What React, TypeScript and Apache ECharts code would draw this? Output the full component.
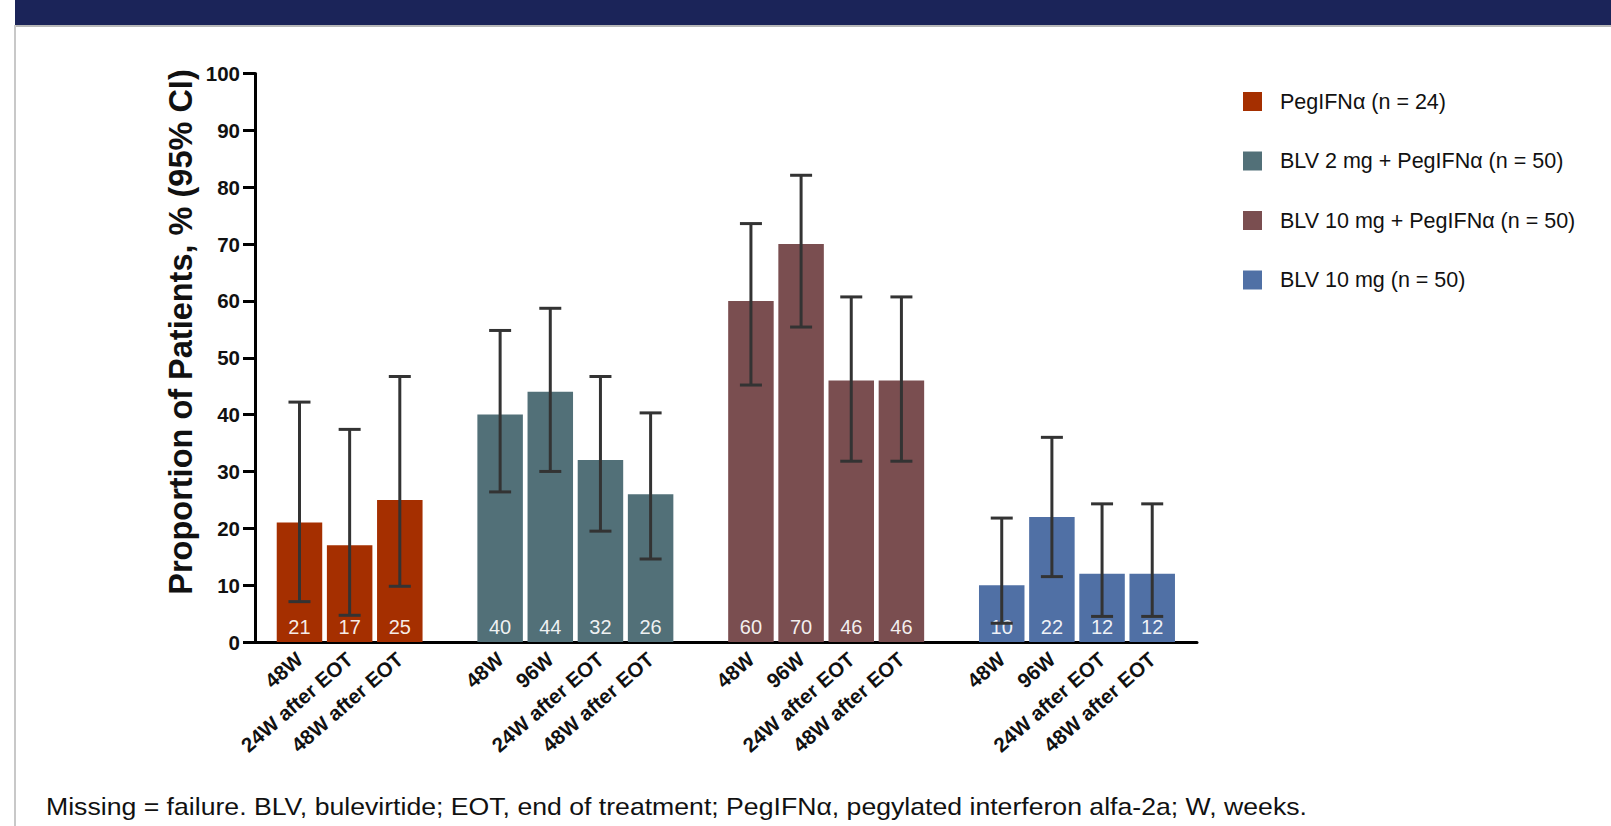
import React, { useEffect, useRef } from "react";
import * as echarts from "echarts";

// Treatment arms (legend entries) and their colours
const armNames = [
  "PegIFNα (n = 24)",
  "BLV 2 mg + PegIFNα (n = 50)",
  "BLV 10 mg + PegIFNα (n = 50)",
  "BLV 10 mg (n = 50)",
];
const armColors = ["#a52f00", "#527078", "#7a4e50", "#5070a5"];

// Timepoints per arm
const pegTimepoints = ["48W", "24W after EOT", "48W after EOT"];
const blvTimepoints = ["48W", "96W", "24W after EOT", "48W after EOT"];

// Proportion of patients (%) with 95% CI bounds
const pegValues = [21, 17, 25];
const pegLow = [7.1, 4.7, 9.8];
const pegHigh = [42.2, 37.4, 46.7];

const blv2PegValues = [40, 44, 32, 26];
const blv2PegLow = [26.4, 30.0, 19.5, 14.6];
const blv2PegHigh = [54.8, 58.7, 46.7, 40.3];

const blv10PegValues = [60, 70, 46, 46];
const blv10PegLow = [45.2, 55.4, 31.8, 31.8];
const blv10PegHigh = [73.6, 82.1, 60.7, 60.7];

const blv10Values = [10, 22, 12, 12];
const blv10Low = [3.3, 11.5, 4.5, 4.5];
const blv10High = [21.8, 36.0, 24.3, 24.3];

// Y axis range
const yMin = 0;
const yMax = 100;
const yStep = 10;

const yTitle = "Proportion of Patients, % (95% CI)";
const footnote =
  "Missing = failure. BLV, bulevirtide; EOT, end of treatment; PegIFNα, pegylated interferon alfa-2a; W, weeks.";

const FONT = "'Liberation Sans', Arial, Helvetica, sans-serif";

const arms = [
  { labels: pegTimepoints, values: pegValues, low: pegLow, high: pegHigh },
  { labels: blvTimepoints, values: blv2PegValues, low: blv2PegLow, high: blv2PegHigh },
  { labels: blvTimepoints, values: blv10PegValues, low: blv10PegLow, high: blv10PegHigh },
  { labels: blvTimepoints, values: blv10Values, low: blv10Low, high: blv10High },
];

export default function App() {
  const ref = useRef<HTMLDivElement>(null);

  useEffect(() => {
    if (!ref.current) return;
    const chart = echarts.init(ref.current, undefined, { renderer: "svg" });

    // Build the category list with one empty slot between arms
    const categories: string[] = [];
    const slotOfArm: number[][] = [];
    arms.forEach((arm, a) => {
      if (a > 0) categories.push("");
      slotOfArm.push(
        arm.labels.map((l) => {
          categories.push(l);
          return categories.length - 1;
        })
      );
    });

    const barSeries = arms.map((arm, a) => {
      const data: (number | string)[] = categories.map(() => "-");
      slotOfArm[a].forEach((slot, i) => (data[slot] = arm.values[i]));
      return {
        name: armNames[a],
        type: "bar",
        stack: "arms",
        xAxisIndex: 1,
        yAxisIndex: 1,
        barWidth: 45.5,
        itemStyle: { color: armColors[a] },
        label: {
          show: true,
          position: "insideBottom",
          distance: 5,
          color: "rgba(255,255,255,0.92)",
          fontSize: 20,
          fontFamily: FONT,
        },
        data,
        z: 2,
      };
    });

    const ciData: number[][] = [];
    arms.forEach((arm, a) => {
      slotOfArm[a].forEach((slot, i) => ciData.push([slot, arm.low[i], arm.high[i]]));
    });

    const ciSeries = {
      name: "95% CI",
      type: "custom",
      xAxisIndex: 1,
      yAxisIndex: 1,
      z: 5,
      encode: { x: 0, y: [1, 2] },
      data: ciData,
      renderItem: (_params: any, api: any) => {
        const idx = api.value(0);
        const lo = api.coord([idx, api.value(1)]);
        const hi = api.coord([idx, api.value(2)]);
        const half = 11;
        const style = { stroke: "#333333", lineWidth: 3 };
        return {
          type: "group",
          children: [
            { type: "line", shape: { x1: lo[0], y1: lo[1], x2: hi[0], y2: hi[1] }, style },
            { type: "line", shape: { x1: hi[0] - half, y1: hi[1], x2: hi[0] + half, y2: hi[1] }, style },
            { type: "line", shape: { x1: lo[0] - half, y1: lo[1], x2: lo[0] + half, y2: lo[1] }, style },
          ],
        };
      },
    };

    chart.setOption({
      animation: false,
      backgroundColor: "#ffffff",
      textStyle: { fontFamily: FONT },
      grid: [
        // axes frame
        { left: 255, top: 73.5, width: 942, height: 568.5 },
        // bar area
        { left: 274.4, top: 73.5, width: 902.9, height: 568.5 },
      ],
      xAxis: [
        {
          type: "value",
          gridIndex: 0,
          min: 0,
          max: 1,
          axisLine: { show: true, lineStyle: { color: "#000", width: 3 } },
          axisTick: { show: false },
          axisLabel: { show: false },
          splitLine: { show: false },
        },
        {
          type: "category",
          gridIndex: 1,
          data: categories,
          axisLine: { show: false },
          axisTick: { show: false },
          splitLine: { show: false },
          axisLabel: {
            interval: 0,
            rotate: 41,
            margin: 14,
            color: "#111",
            fontSize: 20.5,
            fontWeight: "bold",
            fontFamily: FONT,
          },
        },
      ],
      yAxis: [
        {
          type: "value",
          gridIndex: 0,
          min: yMin,
          max: yMax,
          interval: yStep,
          axisLine: { show: true, lineStyle: { color: "#000", width: 3 } },
          axisTick: { show: true, length: 12, lineStyle: { color: "#000", width: 3 } },
          axisLabel: {
            margin: 15,
            color: "#111",
            fontSize: 20.5,
            fontWeight: "bold",
            fontFamily: FONT,
          },
          splitLine: { show: false },
        },
        {
          type: "value",
          gridIndex: 1,
          min: yMin,
          max: yMax,
          show: false,
        },
      ],
      legend: {
        data: armNames,
        orient: "vertical",
        left: 1238,
        top: 85.5,
        icon: "rect",
        itemWidth: 19,
        itemHeight: 19,
        itemGap: 37.5,
        textStyle: {
          fontSize: 21.5,
          color: "#111",
          fontFamily: FONT,
          padding: [0, 0, 0, 13],
        },
      },
      graphic: [
        { type: "rect", left: 15, top: 0, shape: { width: 1596, height: 25 }, style: { fill: "#1b2459" }, silent: true },
        { type: "rect", left: 15, top: 25, shape: { width: 1596, height: 2 }, style: { fill: "#b8b8b8" }, silent: true },
        { type: "rect", left: 14, top: 25, shape: { width: 2, height: 801 }, style: { fill: "#c8c8c8" }, silent: true },
        {
          type: "text",
          x: 181,
          y: 332,
          rotation: Math.PI / 2,
          style: {
            text: yTitle,
            fill: "#111",
            font: `bold 32.5px ${FONT}`,
            textAlign: "center",
            textVerticalAlign: "middle",
          },
          silent: true,
        },
        {
          type: "text",
          x: 46,
          y: 806,
          scaleX: 1.11,
          style: {
            text: footnote,
            fill: "#111",
            font: `24px ${FONT}`,
            textAlign: "left",
            textVerticalAlign: "middle",
          },
          silent: true,
        },
      ],
      series: [...barSeries, ciSeries],
    });

    return () => chart.dispose();
  }, []);

  return (
    <div
      ref={ref}
      style={{ position: "fixed", left: 0, top: 0, width: 1611, height: 826, background: "#fff" }}
    />
  );
}
